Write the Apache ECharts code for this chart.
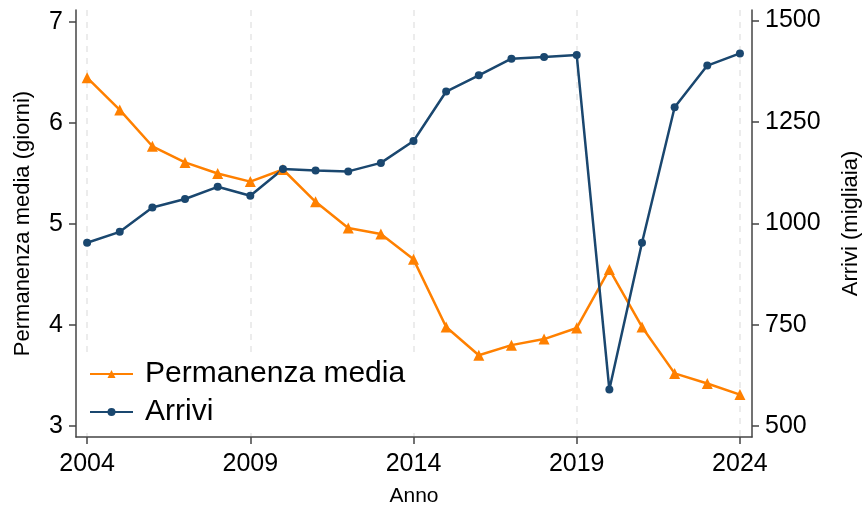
<!DOCTYPE html>
<html>
<head>
<meta charset="utf-8">
<script src="https://cdn.jsdelivr.net/npm/echarts@6/dist/echarts.min.js"></script>
<style>
html,body{margin:0;padding:0;background:#fff;}
#chart{width:862px;height:505px;}
</style>
</head>
<body>
<div id="chart"></div>
<script>
const years = [2004,2005,2006,2007,2008,2009,2010,2011,2012,2013,2014,2015,2016,2017,2018,2019,2020,2021,2022,2023,2024];
const permanenza = [6.45,6.13,5.77,5.61,5.50,5.42,5.54,5.22,4.96,4.90,4.65,3.98,3.70,3.80,3.86,3.97,4.55,3.98,3.52,3.42,3.31];
const arrivi = [952,979,1039,1060,1090,1068,1134,1130,1128,1149,1203,1325,1365,1406,1410,1415,590,952,1286,1389,1419];
const xTicks = [2004,2009,2014,2019,2024];
const leftTicks = [3,4,5,6,7];
const rightTicks = [500,750,1000,1250,1500];

const FONT = 'Liberation Sans, Arial, sans-serif';
const AXIS_COLOR = '#444';
const ORANGE = '#ff8000';
const NAVY = '#1a476f';

const chart = echarts.init(document.getElementById('chart'));
chart.setOption({
  backgroundColor: '#fff',
  animation: false,
  grid: {left: 76, right: 110, top: 10, bottom: 68, containLabel: false, outerBoundsMode: 'none'},
  legend: {
    orient: 'vertical',
    left: 77,
    top: 355,
    backgroundColor: '#fff',
    padding: [4, 14, 6, 12],
    itemGap: 8,
    itemWidth: 43,
    itemHeight: 10,
    textStyle: {fontFamily: FONT, fontSize: 30, color: '#000', lineHeight: 30, padding: [0, 0, 0, 7]},
    data: ['Permanenza media', 'Arrivi']
  },
  xAxis: {
    type: 'value',
    min: 2003.66,
    max: 2024.37,
    name: 'Anno',
    nameLocation: 'middle',
    nameGap: 49,
    nameTextStyle: {fontFamily: FONT, fontSize: 21, color: '#000'},
    axisLine: {show: true, lineStyle: {color: AXIS_COLOR, width: 1.5}},
    axisTick: {show: true, length: 7, lineStyle: {color: AXIS_COLOR, width: 1.5}, customValues: xTicks},
    axisLabel: {fontFamily: FONT, fontSize: 25, color: '#000', margin: 15, customValues: xTicks, formatter: v => String(v)},
    splitLine: {show: true, lineStyle: {color: '#e6e6e6', width: 1.5, type: [6, 6]}}
  },
  yAxis: [
    {
      type: 'value',
      position: 'left',
      min: 2.89,
      max: 7.12,
      name: 'Permanenza media (giorni)',
      nameLocation: 'middle',
      nameGap: 42,
      nameTextStyle: {fontFamily: FONT, fontSize: 22, color: '#000'},
      axisLine: {show: true, lineStyle: {color: AXIS_COLOR, width: 1.5}},
      axisTick: {show: true, length: 7, lineStyle: {color: AXIS_COLOR, width: 1.5}, customValues: leftTicks},
      axisLabel: {fontFamily: FONT, fontSize: 25, color: '#000', margin: 13, customValues: leftTicks, formatter: v => String(v)},
      splitLine: {show: false}
    },
    {
      type: 'value',
      position: 'right',
      min: 473,
      max: 1526,
      name: 'Arrivi (migliaia)',
      nameLocation: 'middle',
      nameRotate: 90,
      nameGap: 88,
      nameTextStyle: {fontFamily: FONT, fontSize: 22, color: '#000'},
      axisLine: {show: true, lineStyle: {color: AXIS_COLOR, width: 1.5}},
      axisTick: {show: true, length: 7, lineStyle: {color: AXIS_COLOR, width: 1.5}, customValues: rightTicks},
      axisLabel: {fontFamily: FONT, fontSize: 25, color: '#000', margin: 13, customValues: rightTicks, formatter: v => String(v)},
      splitLine: {show: false}
    }
  ],
  series: [
    {
      name: 'Permanenza media',
      type: 'line',
      yAxisIndex: 0,
      data: years.map((y, i) => [y, permanenza[i]]),
      symbol: 'triangle',
      symbolSize: 11,
      itemStyle: {color: ORANGE},
      lineStyle: {color: ORANGE, width: 2.5},
      z: 3
    },
    {
      name: 'Arrivi',
      type: 'line',
      yAxisIndex: 1,
      data: years.map((y, i) => [y, arrivi[i]]),
      symbol: 'circle',
      symbolSize: 8,
      itemStyle: {color: NAVY},
      lineStyle: {color: NAVY, width: 2.5},
      z: 3
    }
  ]
});
</script>
</body>
</html>
